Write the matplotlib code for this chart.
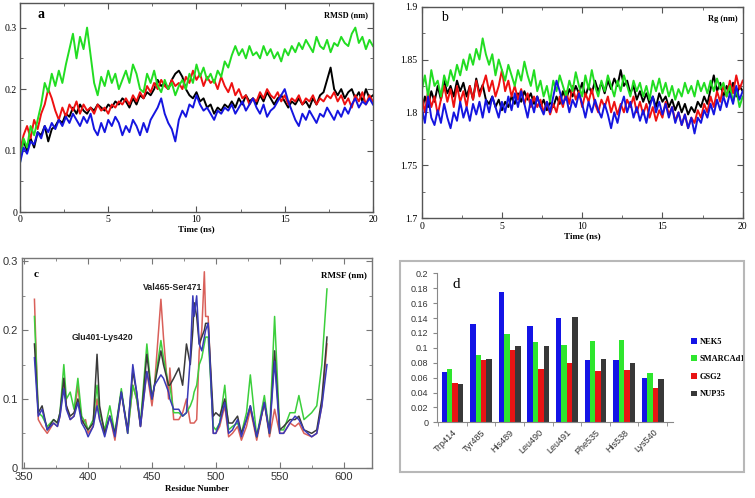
import matplotlib
matplotlib.use('Agg')
import numpy as np
import matplotlib.pyplot as plt
from matplotlib.patches import Rectangle
from matplotlib.ticker import MultipleLocator, FixedLocator

SERIF = 'Liberation Serif'
SANS = 'Liberation Sans'

# ---- panel a / b: time axis (ns), every 0.2 ns ----
time_ns = np.linspace(0, 20, 101)

rmsd_black = [.095, .115, .100, .120, .105, .130, .125, .140, .115, .135,
              .140, .150, .145, .160, .155, .170, .160, .175, .165, .160,
              .170, .165, .175, .170, .165, .175, .170, .180, .175, .185,
              .180, .170, .185, .175, .190, .185, .195, .190, .200, .215,
              .205, .210, .200, .215, .225, .230, .220, .200, .190, .185,
              .195, .180, .185, .170, .175, .160, .170, .165, .175, .170,
              .180, .170, .185, .175, .190, .180, .185, .175, .190, .180,
              .195, .185, .175, .185, .190, .180, .170, .180, .175, .185,
              .175, .180, .170, .185, .175, .190, .195, .215, .235, .200,
              .190, .200, .185, .195, .200, .185, .195, .180, .200, .185,
              .190]
rmsd_red = [.100, .125, .140, .120, .150, .135, .160, .175, .200, .185,
            .165, .150, .170, .155, .175, .165, .180, .160, .175, .165,
            .170, .160, .175, .165, .170, .160, .175, .170, .180, .175,
            .185, .175, .190, .180, .195, .185, .205, .195, .210, .200,
            .215, .205, .200, .215, .205, .210, .200, .220, .210, .230,
            .215, .225, .205, .220, .210, .215, .200, .220, .205, .195,
            .210, .190, .200, .185, .190, .175, .185, .180, .195, .185,
            .200, .190, .185, .195, .180, .190, .175, .185, .180, .190,
            .175, .185, .180, .190, .175, .185, .180, .190, .185, .195,
            .180, .190, .175, .185, .170, .190, .180, .195, .175, .190,
            .180]
rmsd_green = [.080, .120, .105, .140, .125, .150, .175, .210, .195, .225,
              .205, .230, .210, .240, .265, .290, .250, .285, .265, .300,
              .255, .210, .190, .220, .205, .230, .210, .225, .200, .215,
              .230, .210, .240, .225, .200, .195, .225, .210, .230, .205,
              .195, .215, .200, .210, .190, .205, .215, .200, .225, .210,
              .240, .220, .235, .215, .225, .210, .230, .220, .245, .235,
              .255, .270, .255, .265, .250, .270, .255, .260, .250, .270,
              .255, .265, .250, .260, .245, .265, .255, .270, .260, .275,
              .265, .280, .270, .260, .285, .270, .265, .280, .260, .275,
              .270, .285, .275, .270, .290, .300, .275, .285, .265, .280,
              .270]
rmsd_blue = [.080, .105, .095, .115, .110, .130, .120, .140, .130, .145,
             .135, .150, .140, .155, .145, .160, .150, .140, .155, .145,
             .160, .135, .125, .145, .130, .150, .140, .155, .145, .125,
             .140, .130, .150, .140, .125, .145, .130, .150, .160, .170,
             .185, .160, .145, .135, .115, .150, .165, .155, .175, .170,
             .190, .175, .165, .170, .160, .150, .165, .160, .170, .165,
             .175, .160, .170, .180, .165, .175, .185, .170, .160, .175,
             .155, .165, .170, .180, .190, .200, .180, .165, .150, .140,
             .160, .150, .165, .155, .145, .160, .155, .170, .160, .150,
             .165, .155, .170, .160, .175, .185, .170, .180, .175, .185,
             .175]

rg_black = [1.800, 1.815, 1.805, 1.820, 1.810, 1.825, 1.812, 1.830, 1.818, 1.825,
            1.815, 1.830, 1.820, 1.828, 1.815, 1.825, 1.812, 1.832, 1.818, 1.826,
            1.812, 1.808, 1.815, 1.805, 1.812, 1.802, 1.810, 1.805, 1.815, 1.808,
            1.818, 1.810, 1.820, 1.812, 1.818, 1.808, 1.815, 1.805, 1.812, 1.802,
            1.810, 1.805, 1.815, 1.808, 1.820, 1.812, 1.822, 1.815, 1.825, 1.818,
            1.828, 1.815, 1.825, 1.818, 1.830, 1.820, 1.828, 1.818, 1.830, 1.822,
            1.832, 1.825, 1.840, 1.825, 1.830, 1.818, 1.825, 1.812, 1.820, 1.810,
            1.818, 1.808, 1.815, 1.805, 1.818, 1.810, 1.815, 1.805, 1.812, 1.802,
            1.810, 1.800, 1.808, 1.798, 1.805, 1.800, 1.810, 1.805, 1.815, 1.808,
            1.822, 1.835, 1.820, 1.828, 1.815, 1.825, 1.818, 1.828, 1.815, 1.825,
            1.820]
rg_red = [1.815, 1.800, 1.820, 1.805, 1.815, 1.798, 1.812, 1.825, 1.810, 1.822,
          1.805, 1.825, 1.810, 1.820, 1.805, 1.825, 1.812, 1.830, 1.815, 1.825,
          1.835, 1.820, 1.830, 1.815, 1.825, 1.840, 1.820, 1.830, 1.815, 1.825,
          1.812, 1.822, 1.808, 1.818, 1.805, 1.815, 1.805, 1.812, 1.800, 1.810,
          1.798, 1.808, 1.800, 1.815, 1.805, 1.820, 1.808, 1.825, 1.812, 1.820,
          1.805, 1.818, 1.810, 1.822, 1.808, 1.800, 1.812, 1.805, 1.815, 1.800,
          1.810, 1.798, 1.808, 1.800, 1.812, 1.805, 1.815, 1.800, 1.810, 1.798,
          1.808, 1.795, 1.805, 1.792, 1.802, 1.795, 1.810, 1.798, 1.805, 1.792,
          1.800, 1.788, 1.798, 1.785, 1.795, 1.790, 1.802, 1.795, 1.808, 1.800,
          1.815, 1.805, 1.820, 1.810, 1.825, 1.815, 1.830, 1.818, 1.835, 1.822,
          1.830]
rg_green = [1.820, 1.835, 1.815, 1.840, 1.825, 1.830, 1.815, 1.835, 1.825, 1.840,
            1.830, 1.845, 1.835, 1.850, 1.840, 1.855, 1.845, 1.860, 1.850, 1.870,
            1.855, 1.845, 1.855, 1.835, 1.850, 1.840, 1.830, 1.845, 1.835, 1.825,
            1.840, 1.830, 1.848, 1.835, 1.825, 1.840, 1.820, 1.830, 1.815, 1.825,
            1.810, 1.830, 1.820, 1.835, 1.825, 1.815, 1.830, 1.820, 1.838, 1.825,
            1.815, 1.835, 1.822, 1.840, 1.825, 1.815, 1.830, 1.820, 1.835, 1.825,
            1.815, 1.830, 1.820, 1.835, 1.825, 1.815, 1.830, 1.820, 1.828, 1.815,
            1.825, 1.812, 1.830, 1.820, 1.832, 1.818, 1.828, 1.815, 1.825, 1.812,
            1.822, 1.815, 1.828, 1.818, 1.825, 1.815, 1.830, 1.820, 1.828, 1.818,
            1.830, 1.820, 1.832, 1.822, 1.828, 1.815, 1.825, 1.810, 1.822, 1.805,
            1.815]
rg_blue = [1.805, 1.790, 1.815, 1.795, 1.788, 1.802, 1.790, 1.808, 1.795, 1.785,
           1.800, 1.792, 1.810, 1.795, 1.805, 1.792, 1.808, 1.798, 1.810, 1.795,
           1.812, 1.800, 1.815, 1.805, 1.795, 1.810, 1.800, 1.815, 1.802, 1.818,
           1.805, 1.820, 1.808, 1.795, 1.812, 1.800, 1.815, 1.805, 1.798, 1.810,
           1.800, 1.815, 1.830, 1.820, 1.808, 1.815, 1.800, 1.812, 1.805, 1.818,
           1.808, 1.795, 1.810, 1.800, 1.812, 1.802, 1.795, 1.808, 1.798, 1.785,
           1.800, 1.790, 1.805, 1.815, 1.800, 1.810, 1.795, 1.805, 1.792, 1.802,
           1.790, 1.805, 1.815, 1.800, 1.810, 1.798, 1.808, 1.795, 1.805, 1.790,
           1.800, 1.788, 1.798, 1.785, 1.795, 1.780, 1.795, 1.790, 1.802, 1.795,
           1.808, 1.798, 1.812, 1.802, 1.815, 1.805, 1.818, 1.808, 1.825, 1.812,
           1.820]

# ---- panel c: RMSF per residue ----
residue = [358, 361, 364, 368, 373, 376, 378, 381, 383, 386, 389, 392, 395, 398,
           400, 404, 407, 409, 413, 417, 421, 426, 431, 435, 438, 441, 446, 450,
           452, 457, 459, 463, 464, 467, 471, 474, 477, 480, 482, 483, 485, 487,
           489, 491, 492, 494, 498, 500, 503, 507, 510, 513, 517, 520, 524, 527,
           532, 538, 542, 546, 550, 553, 558, 562, 565, 569, 575, 579, 583, 587]
rmsf_red = [.245, .070, .060, .050, .065, .060, .075, .130, .090, .070, .075, .120, .065, .070,
            .050, .060, .100, .070, .050, .075, .040, .110, .050, .120, .100, .060, .140, .090,
            .120, .245, .190, .100, .145, .070, .070, .080, .100, .065, .065, .065, .070, .170,
            .200, .285, .220, .220, .050, .050, .060, .090, .045, .050, .060, .040, .060, .085,
            .040, .095, .045, .085, .050, .050, .065, .060, .065, .050, .045, .050, .090, .180]
rmsf_green = [.220, .080, .075, .060, .070, .065, .080, .150, .100, .110, .085, .130, .075, .065,
              .055, .070, .120, .080, .055, .090, .050, .115, .050, .120, .100, .065, .180, .100,
              .120, .185, .160, .120, .120, .080, .080, .075, .080, .090, .100, .110, .120, .150,
              .160, .180, .190, .190, .060, .055, .065, .120, .055, .060, .065, .050, .080, .135,
              .045, .105, .050, .220, .055, .055, .080, .080, .105, .070, .080, .090, .150, .260]
rmsf_black = [.180, .080, .090, .055, .070, .065, .080, .130, .090, .075, .080, .100, .070, .060,
              .055, .065, .165, .090, .050, .075, .050, .110, .055, .140, .110, .060, .165, .100,
              .120, .170, .150, .120, .120, .130, .145, .120, .180, .150, .200, .240, .220, .180,
              .190, .200, .210, .210, .075, .080, .075, .100, .065, .065, .075, .050, .070, .090,
              .045, .095, .050, .170, .055, .060, .070, .070, .075, .055, .050, .055, .100, .190]
rmsf_blue = [.160, .075, .085, .055, .065, .060, .075, .115, .085, .070, .075, .095, .065, .055,
             .045, .060, .090, .070, .045, .075, .045, .110, .050, .150, .110, .060, .140, .100,
             .120, .135, .130, .110, .100, .085, .085, .075, .080, .160, .250, .220, .250, .180,
             .170, .190, .200, .210, .050, .050, .065, .095, .050, .055, .070, .045, .070, .090,
             .045, .095, .050, .155, .050, .050, .065, .075, .070, .055, .045, .050, .090, .150]

# ---- panel d: RMSF of selected residues ----
residues_d = ['Trp414', 'Tyr485', 'His489', 'Leu490', 'Leu491', 'Phe535', 'His538', 'Lys540']
proteins = ['NEK5', 'SMARCAd1', 'GSG2', 'NUP35']
nek5 = [0.067, 0.132, 0.175, 0.129, 0.140, 0.083, 0.084, 0.059]
smarcad1 = [0.071, 0.090, 0.119, 0.108, 0.104, 0.109, 0.110, 0.066]
gsg2 = [0.053, 0.083, 0.097, 0.072, 0.079, 0.069, 0.070, 0.046]
nup35 = [0.052, 0.085, 0.102, 0.102, 0.142, 0.085, 0.079, 0.058]


def frame_style(ax, color='#555555'):
    for s in ax.spines.values():
        s.set_color(color)
        s.set_linewidth(1.0)
    ax.tick_params(which='both', direction='in', top=True, right=True, color=color)
    ax.tick_params(which='major', length=4)
    ax.tick_params(which='minor', length=2)


fig = plt.figure(figsize=(7.55, 4.98), dpi=100)

# panel a
ax1 = fig.add_axes([0.0265, 0.574, 0.4675, 0.42])
for y, c in [(rmsd_black, 'black'), (rmsd_red, '#ee1111'),
             (rmsd_green, '#22dd22'), (rmsd_blue, '#1515e0')]:
    ax1.plot(time_ns, y, color=c, lw=1.4)
ax1.set_xlim(0, 20)
ax1.set_ylim(0, 0.34)
ax1.xaxis.set_major_locator(FixedLocator([0, 5, 10, 15, 20]))
ax1.xaxis.set_minor_locator(MultipleLocator(2.5))
ax1.yaxis.set_major_locator(FixedLocator([0, 0.1, 0.2, 0.3]))
ax1.yaxis.set_minor_locator(MultipleLocator(0.05))
ax1.set_yticklabels(['0', '0.1', '0.2', '0.3'])
frame_style(ax1)
for lab in ax1.get_xticklabels() + ax1.get_yticklabels():
    lab.set_fontfamily(SERIF)
    lab.set_fontsize(7)
ax1.tick_params(pad=2)
ax1.set_xlabel('Time (ns)', fontfamily=SERIF, fontweight='bold', fontsize=6.5, labelpad=1)
ax1.text(0.05, 0.93, 'a', transform=ax1.transAxes, fontfamily=SERIF, fontweight='bold', fontsize=10)
ax1.text(0.985, 0.93, 'RMSD (nm)', transform=ax1.transAxes, ha='right', fontfamily=SERIF,
         fontweight='bold', fontsize=6)

# panel b
ax2 = fig.add_axes([0.5585, 0.5622, 0.4252, 0.4244])
for y, c in [(rg_black, 'black'), (rg_red, '#ee1111'),
             (rg_green, '#22dd22'), (rg_blue, '#1515e0')]:
    ax2.plot(time_ns, y, color=c, lw=1.4)
ax2.set_xlim(0, 20)
ax2.set_ylim(1.7, 1.9)
ax2.xaxis.set_major_locator(FixedLocator([0, 5, 10, 15, 20]))
ax2.xaxis.set_minor_locator(MultipleLocator(2.5))
ax2.yaxis.set_major_locator(FixedLocator([1.7, 1.75, 1.8, 1.85, 1.9]))
ax2.yaxis.set_minor_locator(MultipleLocator(0.025))
ax2.set_yticklabels(['1.7', '1.75', '1.8', '1.85', '1.9'])
frame_style(ax2)
for lab in ax2.get_xticklabels() + ax2.get_yticklabels():
    lab.set_fontfamily(SERIF)
    lab.set_fontsize(7)
ax2.tick_params(pad=3)
ax2.set_xlabel('Time (ns)', fontfamily=SERIF, fontweight='bold', fontsize=6.5, labelpad=1)
ax2.text(0.06, 0.93, 'b', transform=ax2.transAxes, fontfamily=SERIF, fontsize=10)
ax2.text(0.985, 0.93, 'Rg (nm)', transform=ax2.transAxes, ha='right', fontfamily=SERIF,
         fontweight='bold', fontsize=6)

# panel c
ax3 = fig.add_axes([0.0287, 0.0608, 0.4636, 0.4211])
for y, c in [(rmsf_red, '#d9605a'), (rmsf_green, '#3ccf3c'),
             (rmsf_black, '#3a3a3a'), (rmsf_blue, '#3a3ab8')]:
    ax3.plot(residue, y, color=c, lw=1.1)
ax3.set_xlim(348, 622)
ax3.set_ylim(0, 0.305)
ax3.xaxis.set_major_locator(FixedLocator([350, 400, 450, 500, 550, 600]))
ax3.xaxis.set_minor_locator(MultipleLocator(25))
ax3.yaxis.set_major_locator(FixedLocator([0, 0.1, 0.2, 0.3]))
ax3.yaxis.set_minor_locator(MultipleLocator(0.05))
ax3.set_yticklabels(['0', '0.1', '0.2', '0.3'])
frame_style(ax3, '#777777')
for lab in ax3.get_xticklabels() + ax3.get_yticklabels():
    lab.set_fontfamily(SANS)
    lab.set_fontsize(8)
    lab.set_color('#333333')
ax3.tick_params(pad=3)
ax3.set_xlabel('Residue Number', fontfamily=SERIF, fontweight='bold', fontsize=6.5, labelpad=2)
ax3.text(0.035, 0.91, 'c', transform=ax3.transAxes, fontfamily=SERIF, fontweight='bold', fontsize=8)
ax3.text(0.985, 0.91, 'RMSF (nm)', transform=ax3.transAxes, ha='right', fontfamily=SERIF,
         fontweight='bold', fontsize=6.5)
ax3.text(466.5, 0.262, 'Val465-Ser471', ha='center', va='center', fontfamily=SANS,
         fontweight='bold', fontsize=6.3, color='#222222')
ax3.text(411, 0.19, 'Glu401-Lys420', ha='center', va='center', fontfamily=SANS,
         fontweight='bold', fontsize=6.3, color='#222222')

# panel d
fig.patches.append(Rectangle((0.5298, 0.0528), 0.4556, 0.4231, transform=fig.transFigure,
                             fill=False, edgecolor='#b8b8b8', linewidth=1.5))
ax4 = fig.add_axes([0.5784, 0.152, 0.3126, 0.2992])
x = np.arange(len(residues_d))
w = 0.19
colors_d = ['#1414e6', '#2ee62e', '#e81414', '#383838']
for i, (vals, name) in enumerate(zip([nek5, smarcad1, gsg2, nup35], proteins)):
    ax4.bar(x + (i - 1.5) * w, vals, w, color=colors_d[i], label=name)
ax4.set_xlim(-0.55, 7.7)
ax4.set_ylim(0, 0.2)
ax4.set_yticks(np.arange(0, 0.201, 0.02))
ax4.set_yticklabels(['%g' % v for v in np.arange(0, 0.201, 0.02).round(2)])
ax4.set_xticks(x)
ax4.set_xticklabels(residues_d, rotation=45, ha='right', rotation_mode='anchor')
ax4.set_xticks(np.arange(-0.5, 8, 1), minor=True)
ax4.tick_params(axis='x', which='major', length=0, pad=4)
ax4.tick_params(axis='x', which='minor', length=3, color='#888888')
ax4.tick_params(axis='y', length=3, color='#888888', pad=3)
for lab in ax4.get_xticklabels() + ax4.get_yticklabels():
    lab.set_fontfamily(SANS)
    lab.set_fontsize(6.5)
    lab.set_color('#333333')
ax4.spines['top'].set_visible(False)
ax4.spines['right'].set_visible(False)
ax4.spines['left'].set_color('#888888')
ax4.spines['bottom'].set_color('#888888')
ax4.text(0.065, 0.9, 'd', transform=ax4.transAxes, fontfamily=SERIF, fontsize=11)
ax4.legend(loc='upper left', bbox_to_anchor=(0.905, 0.337), bbox_transform=fig.transFigure,
           frameon=False, handlelength=0.7, handleheight=0.7, handletextpad=0.4,
           labelspacing=1.15, prop={'family': SERIF, 'weight': 'bold', 'size': 6})

fig.savefig('out.png', dpi=100)
plt.close(fig)
